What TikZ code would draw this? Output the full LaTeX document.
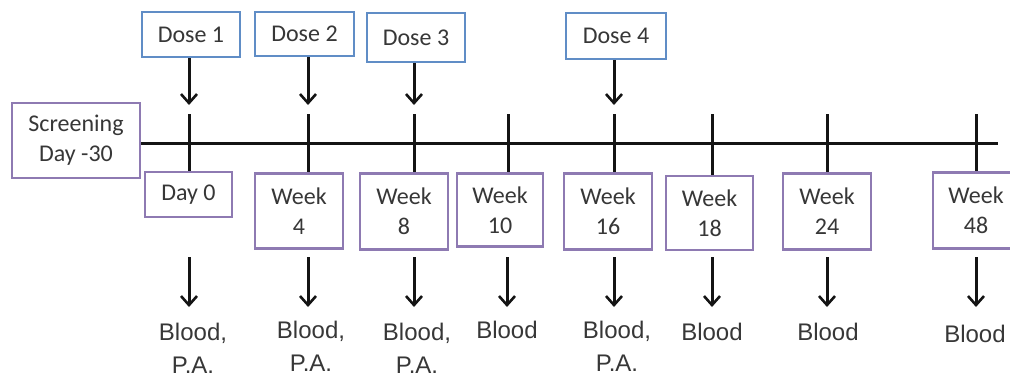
\documentclass[tikz,border=0pt]{standalone}
\usepackage{fontspec}
\setmainfont{Carlito}
\newfontfamily\arialfont{Liberation Sans}
\usetikzlibrary{arrows.meta}
\definecolor{doseblue}{RGB}{96,141,198}
\definecolor{tlpurple}{RGB}{142,122,178}
\definecolor{ink}{RGB}{20,20,20}
\begin{document}
\begin{tikzpicture}[x=1pt,y=-1pt,
  dosebox/.style={draw=doseblue,line width=2.4pt,inner sep=0pt,fill=white,
    font=\fontsize{24}{30}\selectfont,text=ink!85},
  tbox/.style={draw=tlpurple,line width=2.4pt,inner sep=0pt,fill=white,align=center,
    font=\fontsize{24}{30}\selectfont,text=ink!85},
  tick/.style={draw=ink,line width=3pt},
  arr/.style={draw=ink,line width=3pt,-{Straight Barb[length=9pt,width=16pt,line width=2.6pt]}},
  lab/.style={anchor=north,align=center,inner sep=0pt,
    font=\arialfont\fontsize{24}{33}\selectfont,text=ink!85}]
\useasboundingbox (0,0) rectangle (1010,380);

% timeline
\node[tbox,minimum width=128pt,minimum height=75pt] (scr) at (76,140.5) {Screening\\Day -30};
\coordinate (tlend) at (998,143);
\draw[tick] (scr.east |- tlend) -- (tlend);

% tick tops
\foreach \n/\x in {1/189,2/308,3/414,4/508,5/614,6/712,7/827,8/976}{
  \coordinate (t\n) at (\x,114);
}

% bottom boxes
\node[tbox,minimum width=87pt,minimum height=45pt] (b1) at (188.5,194.5) {Day 0};
\node[tbox,minimum width=88pt,minimum height=75pt] (b2) at (299,211) {Week\\4};
\node[tbox,minimum width=88pt,minimum height=76pt] (b3) at (404,211.5) {Week\\8};
\node[tbox,minimum width=86pt,minimum height=73pt] (b4) at (500,210) {Week\\10};
\node[tbox,minimum width=88pt,minimum height=76pt] (b5) at (608,211.5) {Week\\16};
\node[tbox,minimum width=87pt,minimum height=74pt] (b6) at (709.5,213) {Week\\18};
\node[tbox,minimum width=88pt,minimum height=76pt] (b7) at (827,211.5) {Week\\24};
\node[tbox,minimum width=86pt,minimum height=76pt] (b8) at (976,210.5) {Week\\48};

\foreach \n in {1,...,8}{
  \draw[tick] (t\n) -- (t\n |- b\n.north);
}

% doses
\node[dosebox,minimum width=98pt,minimum height=45pt] (d1) at (191,34.5) {Dose 1};
\node[dosebox,minimum width=99pt,minimum height=44pt] (d2) at (304.5,34) {Dose 2};
\node[dosebox,minimum width=98pt,minimum height=49pt] (d3) at (416,37.5) {Dose 3};
\node[dosebox,minimum width=100pt,minimum height=46pt] (d4) at (616,36) {Dose 4};

\coordinate (h1) at (189,105);
\coordinate (h2) at (308,105);
\coordinate (h3) at (414,105);
\coordinate (h4) at (614,105);
\draw[arr] (h1 |- d1.south) -- (h1);
\draw[arr] (h2 |- d2.south) -- (h2);
\draw[arr] (h3 |- d3.south) -- (h3);
\draw[arr] (h4 |- d4.south) -- (h4);

% sample arrows and labels
\foreach \n/\x in {1/189,2/308,3/414,4/507,5/614,6/712,7/827,8/976}{
  \coordinate (s\n) at (\x,257);
  \coordinate (e\n) at (\x,307);
  \draw[arr] (s\n) -- (e\n);
}
\node[lab] (l1) at (193,323) {Blood,\\P.A.};
\node[lab] (l2) at (311,321) {Blood,\\P.A.};
\node[lab] (l3) at (417,323) {Blood,\\P.A.};
\node[lab] (l4) at (507,321) {Blood};
\node[lab] (l5) at (617,321) {Blood,\\P.A.};
\node[lab] (l6) at (712,323) {Blood};
\node[lab] (l7) at (828,323) {Blood};
\node[lab] (l8) at (975,325) {Blood};
\end{tikzpicture}
\end{document}
